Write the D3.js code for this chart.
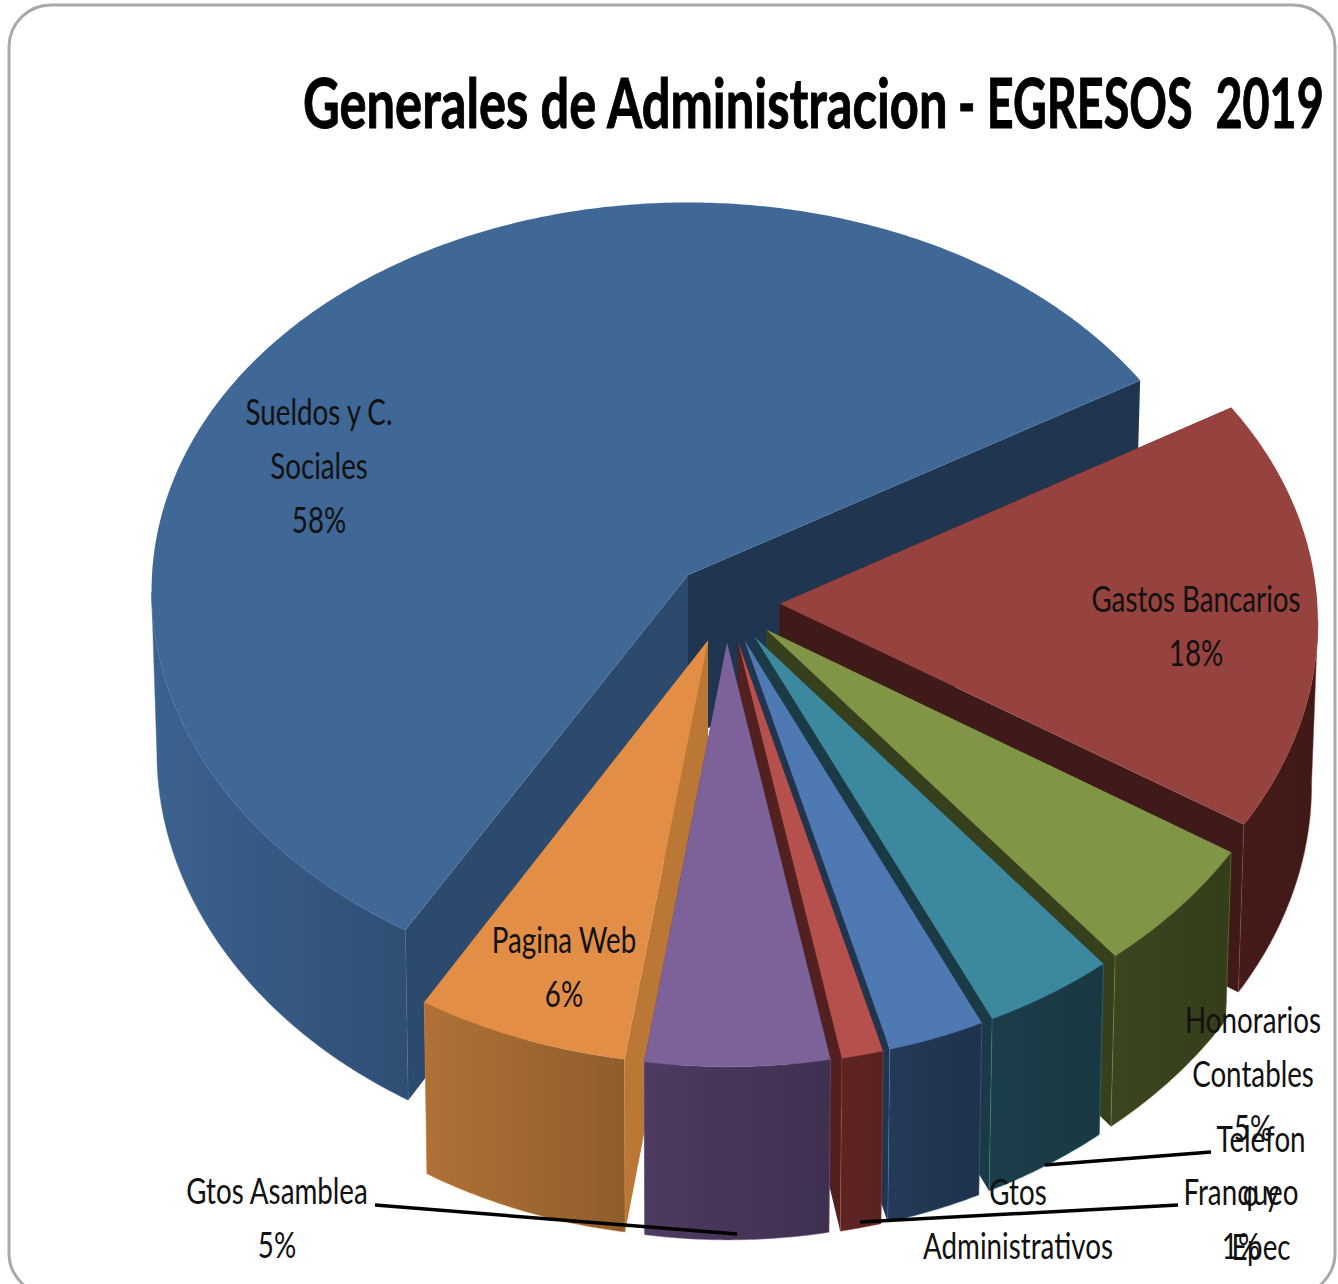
<!DOCTYPE html>
<html>
<head>
<meta charset="utf-8">
<script src="https://cdn.jsdelivr.net/npm/d3@7"></script>
<style>
body { margin: 0; background: #fff; }
svg { display: block; }
text { font-family: Lato, "Open Sans", sans-serif; fill: #111; white-space: pre; }
</style>
</head>
<body>
<svg id="chart" width="1338" height="1284"></svg>
<script>
// clockwise from the Gastos Bancarios back edge
var categories = ["Gastos Bancarios", "Honorarios Contables", "Telefono y Epec", "Gtos Administrativos",
    "Franqueo", "Gtos Asamblea", "Pagina Web", "Sueldos y C. Sociales"];
var shares = [17.6, 5.2, 3.8, 2.8, 1.2, 5.3, 6.1, 58.0];
var percentLabels = ["18%", "5%", null, null, "1%", "5%", "6%", "58%"];

var topColors = ["#96423f", "#809546", "#3c889f", "#4e79b2", "#b5504d", "#7d629a", "#e38e46", "#3f6897"];
var cutColors = ["#401a18", "#37401c", "#1a3a45", "#21354f", "#52201f", "#45365a", "#bb7735", "#2c4a6e"];
var wallLeft = ["#451b19", "#3b451f", "#1b3e4a", "#233a59", "#5e2423", "#4d3a60", "#b07136", "#3c628f"];
var wallRight = ["#401917", "#353e1b", "#193843", "#20324c", "#592221", "#403050", "#8f5d2c", "#2f4e74"];

// label lines, one row per category, broken the way the chart breaks them
var labelLines = [["Gastos Bancarios"], ["Honorarios", "Contables"], ["Telefon", "o y", "Epec"],
    ["Gtos", "Administrativos"], ["Franqueo"], ["Gtos Asamblea"], ["Pagina Web"], ["Sueldos y C.", "Sociales"]];

var labelAnchors = [[1196, 612], [1253, 1033], [1261, 1152], [1018, 1205], [1241, 1205], [277, 1204], [564, 953], [319, 425]];
var leaders = [[[375, 1205], [737, 1234]], [[1211, 1152], [1045, 1165]], [[1178, 1205], [860, 1222]]];

var drawOrder = [7, 0, 1, 2, 3, 4, 6, 5];

var svg = d3.select("#chart");
var defs = svg.append("defs");

svg.append("rect")
    .attr("x", 9).attr("y", 5)
    .attr("width", 1326).attr("height", 1290)
    .attr("rx", 42).attr("ry", 42)
    .attr("fill", "#fff").attr("stroke", "#a9a9a9").attr("stroke-width", 3);

// camera: the disc is radius 1, perspective makes the front edge larger
var originX = 688, originY = 575;
var radiusX = 536, radiusY = 393, perspX = 0.04, perspY = 0.055;
var depth = 162, squeeze = 0.01;
var explode = 0.1;

function project(X, Y, z) {
    var wx = 1 + perspX * Y, wy = 1 + perspY * Y;
    return [originX + radiusX * X / wx * (1 - squeeze * z), originY - radiusY * Y / wy + depth * z / wy];
}

var startAngle = (90 - 30.6) * Math.PI / 180;
var arcs = d3.pie().sort(null).startAngle(startAngle).endAngle(startAngle + 2 * Math.PI)(shares);

function toMath(a) { return Math.PI / 2 - a; }

var blueMid = toMath((arcs[7].startAngle + arcs[7].endAngle) / 2);
var hubX = -explode * Math.cos(blueMid), hubY = -explode * Math.sin(blueMid);

var line = d3.line().curve(d3.curveLinear);

function closed(pts) { return line(pts) + "Z"; }

drawOrder.forEach(function (i) {
    var d = arcs[i];
    var t0 = toMath(d.startAngle), t1 = toMath(d.endAngle), mid = (t0 + t1) / 2;
    var ax = hubX + explode * Math.cos(mid), ay = hubY + explode * Math.sin(mid);
    var steps = Math.max(4, Math.ceil(Math.abs(t1 - t0) / (Math.PI / 360)));
    var ts = d3.range(steps + 1).map(function (k) { return t0 + (t1 - t0) * k / steps; });
    var g = svg.append("g").attr("class", "slice");

    function rim(t, z) { return project(ax + Math.cos(t), ay + Math.sin(t), z); }
    var hubTop = project(ax, ay, 0), hubBottom = project(ax, ay, 1);

    // the two cut faces go down first, the top and the rim paint over the hidden ones
    [t0, t1].forEach(function (t) {
        var c = cutColors[i];
        if (i == 7 && t == t1) c = "#203650"; // back cut of the big slice sits in shadow
        g.append("path")
            .attr("d", closed([hubTop, rim(t, 0), rim(t, 1), hubBottom]))
            .attr("fill", c);
    });

    var front = ts.filter(function (t) { return Math.sin(t) < -perspX; });
    if (front.length > 1) {
        defs.append("linearGradient").attr("id", "wall" + i)
            .selectAll("stop").data([wallLeft[i], wallRight[i]]).enter().append("stop")
            .attr("offset", function (c, k) { return k * 100 + "%"; })
            .attr("stop-color", function (c) { return c; });
        var wall = front.map(function (t) { return rim(t, 0); })
            .concat(front.slice().reverse().map(function (t) { return rim(t, 1); }));
        g.append("path")
            .attr("d", closed(wall))
            .attr("fill", "url(#wall" + i + ")")
            .attr("stroke", topColors[i]).attr("stroke-opacity", 0.45).attr("stroke-width", 1);
    }

    var top = [hubTop].concat(ts.map(function (t) { return rim(t, 0); }));
    g.append("path").attr("d", closed(top)).attr("fill", topColors[i]);
});

leaders.forEach(function (l) {
    svg.append("path").attr("d", line(l)).attr("fill", "none").attr("stroke", "#000").attr("stroke-width", 3.5);
});

function drawText(str, x, y, size, squeezeX, weight, anchor) {
    return svg.append("text")
        .attr("transform", "translate(" + x + "," + y + ") scale(" + squeezeX + ",1)")
        .attr("text-anchor", anchor)
        .attr("font-size", size)
        .attr("font-weight", weight)
        .text(str);
}

categories.forEach(function (name, i) {
    var rows = labelLines[i].slice();
    if (percentLabels[i]) rows.push(percentLabels[i]);
    rows.forEach(function (r, k) {
        drawText(r, labelAnchors[i][0], labelAnchors[i][1] + k * 54, 37, 0.75, 400, "middle");
    });
});

// the title is tighter after the dash, so it goes in two pieces
drawText("Generales de Administracion", 303, 128, 68, 0.745, 700, "start")
    .style("fill", "#000").attr("stroke", "#000").attr("stroke-width", 1);
drawText("- EGRESOS  2019", 958, 128, 68, 0.687, 700, "start")
    .style("fill", "#000").attr("stroke", "#000").attr("stroke-width", 1);
</script>
</body>
</html>
